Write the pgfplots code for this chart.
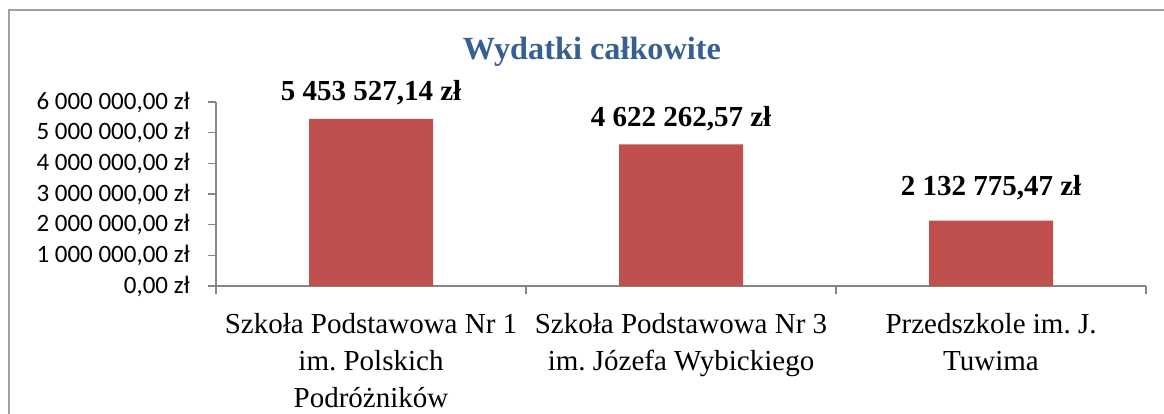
\documentclass[border=0pt]{standalone}
\usepackage{pgfplots}
\pgfplotsset{compat=1.18}
\usepackage{fontspec}
\setmainfont{Liberation Serif}
\newfontfamily\calibri{Carlito}
\definecolor{barred}{HTML}{C0504D}
\definecolor{axgray}{HTML}{868686}
\definecolor{titleblue}{HTML}{376092}
\definecolor{framegray}{HTML}{A0A0A0}
\frenchspacing
\begin{document}
\begin{tikzpicture}
\path[use as bounding box] (0pt,0pt) rectangle (1164pt,-414pt);
\draw[color=framegray, line width=2pt] (9pt,-414pt) -- (9pt,-10pt) -- (1164pt,-10pt);
\node[font=\bfseries\fontsize{32.3}{34}\selectfont, text=titleblue, anchor=base, inner sep=0pt] at (592pt,-60pt) {Wydatki całkowite};
\begin{axis}[
  at={(216pt,-286pt)}, anchor=south west,
  width=930pt, height=184pt, scale only axis,
  xmin=-0.5, xmax=2.5, ymin=0, ymax=6000000,
  clip=false,
  axis x line*=bottom, axis y line*=left,
  axis line style={axgray, line width=1.3pt},
  tick style={axgray, line width=1.3pt},
  tick align=outside, major tick length=8pt,
  ytick={0,1000000,2000000,3000000,4000000,5000000,6000000},
  yticklabels={{0,00 zł},{1 000 000,00 zł},{2 000 000,00 zł},{3 000 000,00 zł},{4 000 000,00 zł},{5 000 000,00 zł},{6 000 000,00 zł}},
  yticklabel style={font=\calibri\fontsize{25}{27}\selectfont, inner sep=0pt, anchor=east, xshift=-18pt},
  scaled y ticks=false,
  xtick={-0.5,0.5,1.5,2.5},
  xticklabels={},
  extra x ticks={0,1,2},
  extra x tick labels={{Szkoła Podstawowa Nr 1\\im. Polskich\\Podróżników},{Szkoła Podstawowa Nr 3\\im. Józefa Wybickiego},{Przedszkole im. J.\\Tuwima}},
  extra x tick style={major tick length=0pt, xticklabel style={font=\fontsize{29}{37}\selectfont, align=center, anchor=north, inner sep=0pt, yshift=-27pt}},
  ybar, bar width=124pt,
  nodes near coords, point meta=explicit symbolic,
  nodes near coords style={font=\bfseries\fontsize{29}{31}\selectfont, anchor=base, inner sep=0pt, yshift=18pt, text=black},
]
\addplot[fill=barred, draw=none] coordinates {
  (0,5453527.14) [5 453 527,14 zł]
  (1,4622262.57) [4 622 262,57 zł]
  (2,2132775.47) [\raisebox{7pt}{2 132 775,47 zł}]
};
\end{axis}
\end{tikzpicture}
\end{document}
